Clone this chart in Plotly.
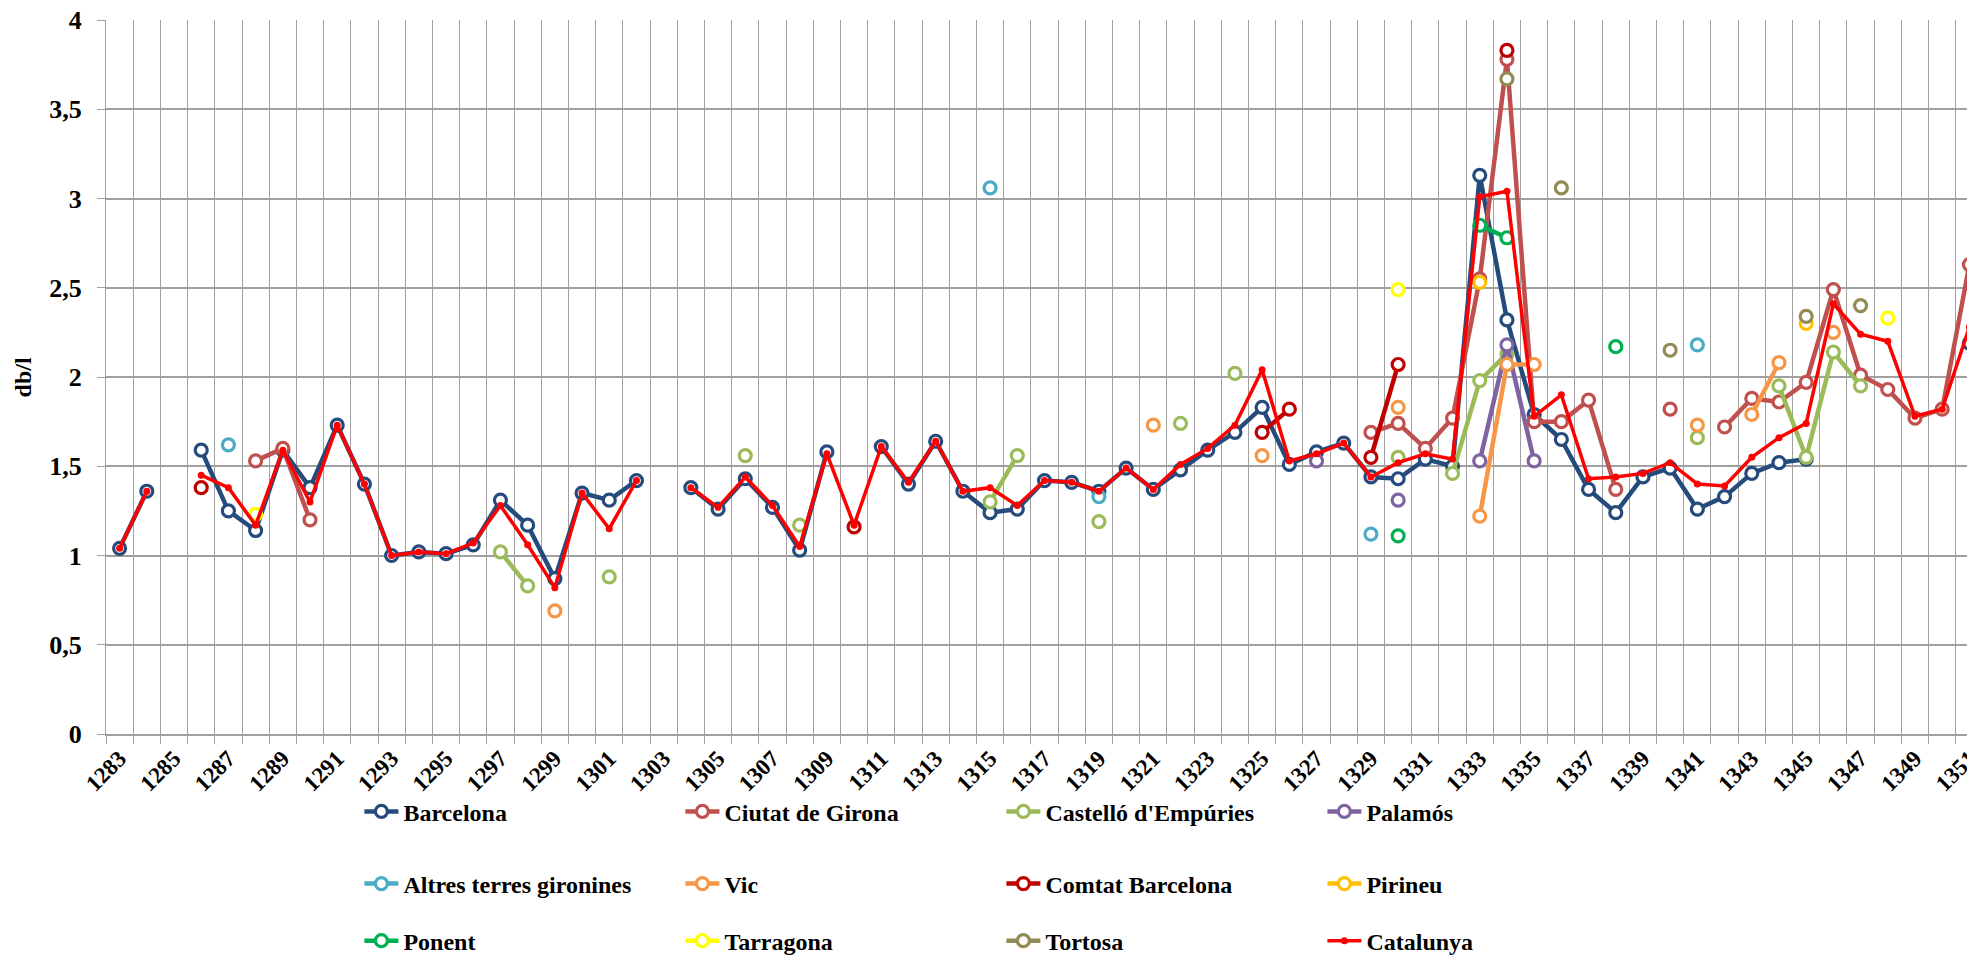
import plotly.graph_objects as go

# years on the category axis
years = list(range(1283, 1352))

# values in db/l, one entry per year (None = no data)
N = None
barcelona = [1.04, 1.36, N, 1.59, 1.25, 1.14, 1.59, 1.38, 1.73, 1.40,
             1.00, 1.02, 1.01, 1.06, 1.31, 1.17, 0.87, 1.35, 1.31, 1.42,
             N, 1.38, 1.26, 1.43, 1.27, 1.03, 1.58, N, 1.61, 1.40,
             1.64, 1.36, 1.24, 1.26, 1.42, 1.41, 1.36, 1.49, 1.37, 1.48,
             1.59, 1.69, 1.83, 1.51, 1.58, 1.63, 1.44, 1.43, 1.54, 1.50,
             3.13, 2.32, 1.79, 1.65, 1.37, 1.24, 1.44, 1.49, 1.26, 1.33,
             1.46, 1.52, 1.54, N, N, N, N, N, 2.19]
catalunya = [1.04, 1.36, N, 1.45, 1.38, 1.17, 1.59, 1.30, 1.73, 1.40,
             1.00, 1.02, 1.01, 1.07, 1.28, 1.06, 0.82, 1.35, 1.15, 1.42,
             N, 1.38, 1.27, 1.44, 1.28, 1.05, 1.57, 1.17, 1.61, 1.41,
             1.64, 1.36, 1.38, 1.28, 1.42, 1.41, 1.36, 1.49, 1.37, 1.51,
             1.60, 1.73, 2.04, 1.53, 1.57, 1.63, 1.44, 1.52, 1.57, 1.54,
             3.01, 3.04, 1.78, 1.90, 1.43, 1.44, 1.46, 1.52, 1.40, 1.39,
             1.55, 1.66, 1.74, 2.41, 2.24, 2.20, 1.78, 1.82, 2.28]

# sparse series: {year: value}
girona = {1288: 1.53, 1289: 1.60, 1290: 1.20, 1329: 1.69, 1330: 1.74,
          1331: 1.60, 1332: 1.77, 1333: 2.55, 1334: 3.78, 1335: 1.75,
          1336: 1.75, 1337: 1.87, 1338: 1.37, 1340: 1.82, 1342: 1.72,
          1343: 1.88, 1344: 1.86, 1345: 1.97, 1346: 2.49, 1347: 2.01,
          1348: 1.93, 1349: 1.77, 1350: 1.82, 1351: 2.63}
castello = {1297: 1.02, 1298: 0.83, 1301: 0.88, 1306: 1.56, 1308: 1.17,
            1315: 1.30, 1316: 1.56, 1319: 1.19, 1322: 1.74, 1324: 2.02,
            1330: 1.55, 1332: 1.46, 1333: 1.98, 1334: 2.13, 1341: 1.66,
            1344: 1.95, 1345: 1.55, 1346: 2.14, 1347: 1.95}
palamos = {1327: 1.53, 1330: 1.31, 1333: 1.53, 1334: 2.18, 1335: 1.53}
altres = {1287: 1.62, 1315: 3.06, 1319: 1.33, 1329: 1.12, 1341: 2.18}
vic = {1299: 0.69, 1321: 1.73, 1325: 1.56, 1330: 1.83, 1333: 1.22,
       1334: 2.07, 1335: 2.07, 1341: 1.73, 1343: 1.79, 1344: 2.08,
       1346: 2.25}
comtat = {1286: 1.38, 1310: 1.16, 1325: 1.69, 1326: 1.82, 1329: 1.55,
          1330: 2.07, 1334: 3.83}
pirineu = {1333: 2.53, 1345: 2.30}
ponent = {1330: 1.11, 1333: 2.85, 1334: 2.78, 1338: 2.17}
tarragona = {1288: 1.23, 1330: 2.49, 1348: 2.33}
tortosa = {1334: 3.67, 1336: 3.06, 1340: 2.15, 1345: 2.34, 1347: 2.40}

tick_years = years[::2]


def full(d):
    return [d.get(y) for y in years]


series = [
    ("Barcelona", barcelona, "#254B7D", "legend"),
    ("Ciutat de Girona", full(girona), "#C0504D", "legend"),
    ("Castelló d'Empúries", full(castello), "#9BBB59", "legend"),
    ("Palamós", full(palamos), "#8064A2", "legend"),
    ("Altres terres gironines", full(altres), "#4BACC6", "legend2"),
    ("Vic", full(vic), "#F79646", "legend2"),
    ("Comtat Barcelona", full(comtat), "#C00000", "legend2"),
    ("Pirineu", full(pirineu), "#FFC000", "legend2"),
    ("Ponent", full(ponent), "#00B050", "legend3"),
    ("Tarragona", full(tarragona), "#FFFF00", "legend3"),
    ("Tortosa", full(tortosa), "#948A54", "legend3"),
]

fig = go.Figure()
for name, vals, color, leg in series:
    fig.add_trace(go.Scatter(
        x=years, y=vals, name=name, mode="lines+markers",
        connectgaps=False, legend=leg,
        line=dict(color=color, width=4.5),
        marker=dict(symbol="circle", size=12, color="white",
                    line=dict(color=color, width=3.2)),
    ))

fig.add_trace(go.Scatter(
    x=years, y=catalunya, name="Catalunya", mode="lines+markers",
    connectgaps=False, legend="legend3",
    line=dict(color="#FF0000", width=3.5),
    marker=dict(symbol="circle", size=7, color="#FF0000"),
))

grid = "#A0A0A0"
serif = "Liberation Serif"

fig.update_xaxes(
    range=[1282.5, 1351.5], automargin=False, ticklabeloverflow="allow",
    tickvals=tick_years, ticktext=[str(y) for y in tick_years],
    tickangle=-45, ticks="", showgrid=False,
    tickfont=dict(family=serif, size=23, color="black", weight="bold"),
    showline=True, linecolor=grid, linewidth=2,
    minor=dict(tick0=1282.5, dtick=1, showgrid=True, gridcolor=grid,
               gridwidth=1.3, ticks="outside", ticklen=8, tickcolor=grid),
    zeroline=False,
)
fig.update_yaxes(
    range=[0, 4], dtick=0.5, automargin=False, ticklabeloverflow="allow",
    showgrid=True, gridcolor=grid, gridwidth=1.5,
    ticks="outside", ticklen=8, tickcolor=grid, ticklabelstandoff=10,
    tickfont=dict(family=serif, size=26, color="black", weight="bold"),
    showline=True, linecolor=grid, linewidth=1.3,
    zeroline=False,
)

leg_common = dict(
    orientation="h", xanchor="left", yanchor="middle", x=0.135,
    entrywidth=272, itemwidth=34, traceorder="normal",
    font=dict(family=serif, size=24, color="black", weight="bold"),
    bgcolor="rgba(0,0,0,0)",
)

# the page adds a body margin, so the margins are trimmed to match
fig.update_layout(
    width=1975, height=956,
    margin=dict(l=98, r=0, t=12, b=228),
    paper_bgcolor="white", plot_bgcolor="white",
    separators=",.",
    showlegend=True,
    legend=dict(leg_common, y=-0.109),
    legend2=dict(leg_common, y=-0.210),
    legend3=dict(leg_common, y=-0.290),
    annotations=[dict(
        text="db/l", xref="paper", yref="paper", x=-0.044, y=0.5,
        xanchor="center", yanchor="middle", textangle=-90, showarrow=False,
        font=dict(family=serif, size=24, color="black", weight="bold"),
    )],
)

fig.write_html("out.html")
